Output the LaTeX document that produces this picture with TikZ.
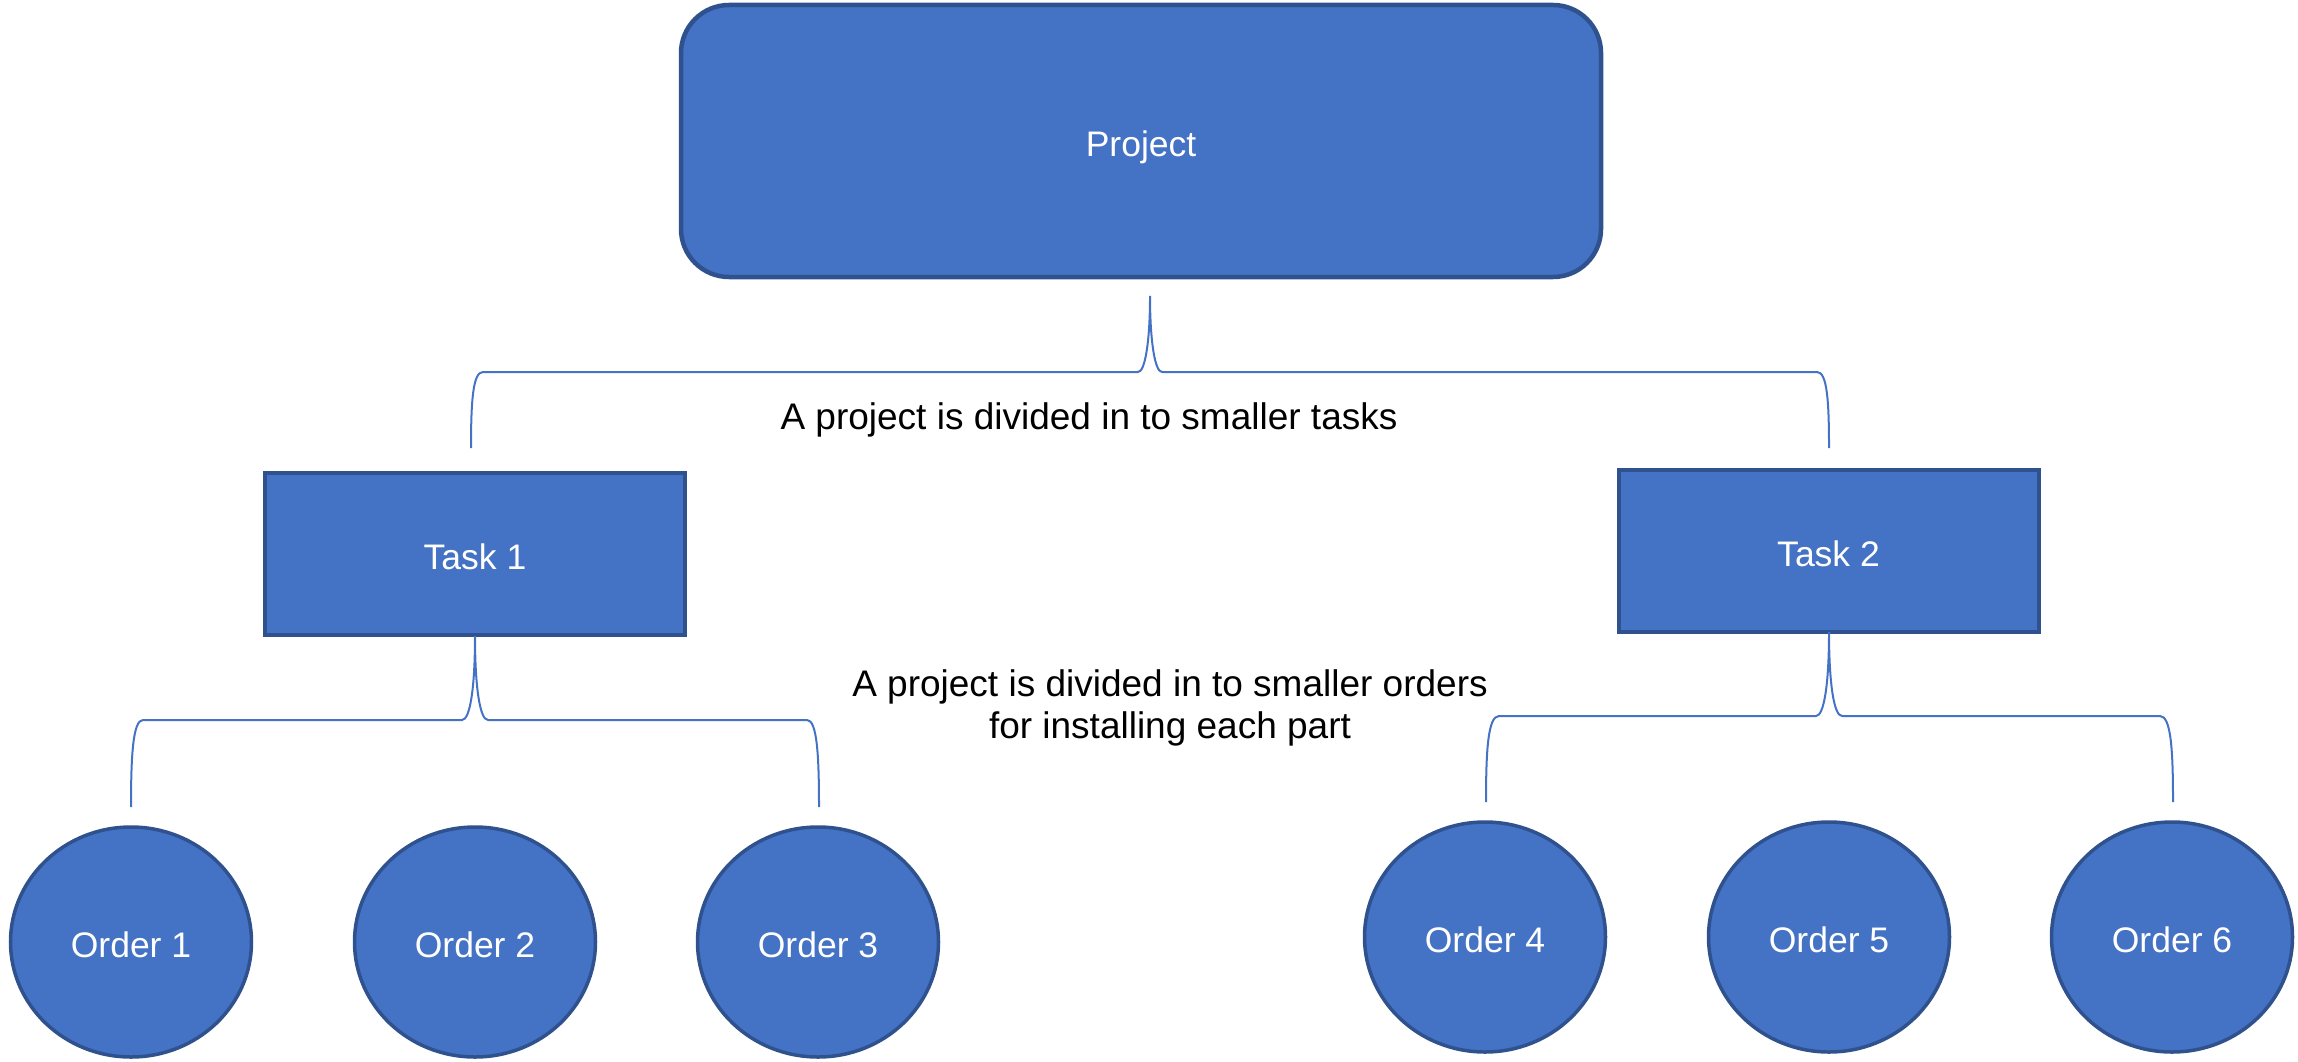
\documentclass[tikz,border=0pt]{standalone}
\usepackage{fontspec}
\setmainfont{Liberation Sans}
\usetikzlibrary{shapes.geometric}
\definecolor{boxfill}{HTML}{4472C4}
\definecolor{boxline}{HTML}{2F528F}
\definecolor{bracecol}{HTML}{4472C4}
\begin{document}
\begin{tikzpicture}[x=1pt,y=-1pt,
  shapebase/.style={fill=boxfill,draw=boxline,text=white,inner sep=0pt,
    font=\fontsize{35.5}{42}\selectfont,text height=31.5pt,text depth=0pt},
  projbox/.style={shapebase,rectangle,rounded corners=48pt,line width=4.5pt,
    minimum width=920pt,minimum height=272pt},
  taskbox/.style={shapebase,rectangle,line width=4pt,
    minimum width=420pt,minimum height=162pt},
  orderell/.style={shapebase,ellipse,line width=3.5pt,
    minimum width=241pt,minimum height=230pt},
  annot/.style={text=black,inner sep=0pt,font=\fontsize{37}{42}\selectfont},
  bracepath/.style={draw=bracecol,line width=2pt}]
\useasboundingbox (0,0) rectangle (2298,1062);

% shapes
\node[projbox] (project) at (1141,141) {Project};
\node[taskbox] (task1) at (475,554) {Task 1};
\node[taskbox] (task2) at (1828.5,550.5) {Task 2};
\node[orderell] (o1) at (131,942) {Order 1};
\node[orderell] (o2) at (475,942) {Order 2};
\node[orderell] (o3) at (818,942) {Order 3};
\node[orderell] (o4) at (1485,937) {Order 4};
\node[orderell] (o5) at (1829,937) {Order 5};
\node[orderell] (o6) at (2172,937) {Order 6};

% annotation texts
\node[annot,anchor=base] (txt1) at (1089,429) {A project is divided in to smaller tasks};
\node[annot,anchor=north,align=center] (txt2) at (1170,669) {A project is divided in to smaller orders\\for installing each part};

% brace coordinates
\coordinate (b1tip) at (1150,296);
\coordinate (b1l) at (471,448);
\coordinate (b1r) at (1829,448);
\coordinate (b2tip) at (475,636);
\coordinate (b2l) at (131,807);
\coordinate (b2r) at (819,807);
\coordinate (b3tip) at (1829,632);
\coordinate (b3l) at (1486,802);
\coordinate (b3r) at (2173,802);

% top brace
\draw[bracepath] (b1l) .. controls (471,400) and (473,372) .. (483,372)
  -- (1138,372) .. controls (1145,372) and (1150,342) .. (b1tip)
  .. controls (1150,342) and (1155,372) .. (1162,372)
  -- (1817,372) .. controls (1827,372) and (1829,400) .. (b1r);

% task 1 brace
\draw[bracepath] (b2l) .. controls (131,755) and (133,720) .. (143,720)
  -- (462,720) .. controls (470,720) and (475,688) .. (b2tip)
  .. controls (475,688) and (480,720) .. (488,720)
  -- (807,720) .. controls (817,720) and (819,755) .. (b2r);

% task 2 brace
\draw[bracepath] (b3l) .. controls (1486,750) and (1488,716) .. (1499,716)
  -- (1816,716) .. controls (1824,716) and (1829,684) .. (b3tip)
  .. controls (1829,684) and (1834,716) .. (1842,716)
  -- (2160,716) .. controls (2171,716) and (2173,750) .. (b3r);
\end{tikzpicture}
\end{document}
